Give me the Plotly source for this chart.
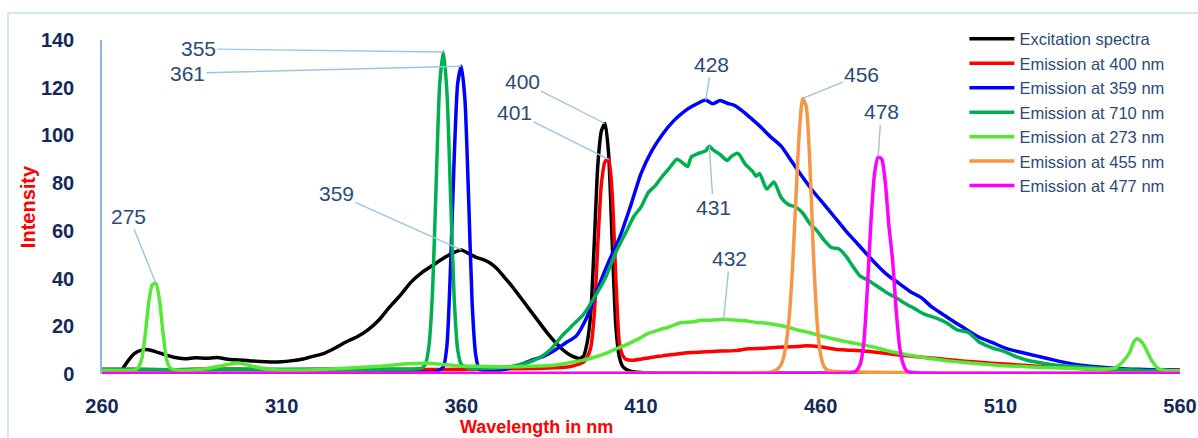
import plotly.graph_objects as go

# ---------------- data ----------------
exc_x = [265, 267, 269, 271, 273, 275, 277, 280, 283, 286, 289, 292, 295, 298, 301, 304, 307, 310, 313, 316,
         319, 322, 325, 328, 331, 334, 337, 340, 343, 346, 349, 352, 355, 358, 360, 362, 364, 366, 368, 370,
         372, 374, 376, 378, 380, 382, 384, 386, 388, 390, 392, 393, 394, 395, 396, 397, 398, 399, 400, 401,
         402, 403, 404, 405, 407, 410, 420, 440, 460, 480, 500, 520, 540, 560]
exc_y = [0.5, 5, 8.5, 10, 10.2, 9.3, 8.3, 7, 6.4, 6.8, 6.6, 6.9, 6.2, 5.9, 5.6, 5.2, 5.0, 5.1, 5.6, 6.3,
         7.5, 8.8, 11, 13.5, 15.6, 18.5, 22.5, 28, 33, 38.5, 42.5, 45.5, 48.5, 51, 52, 50.5, 49, 48, 46.5, 44,
         40.5, 37, 33, 29, 25, 21, 17, 13.5, 10.5, 8.2, 6.8, 6.5, 7.5, 13, 25, 55, 88, 102, 105, 92,
         55, 20, 7, 3, 1.2, 0.6, 0.4, 0.3, 0.3, 0.3, 0.2, 0.2, 0.2, 0.2]

em400_x = [260, 270, 280, 290, 300, 310, 320, 330, 340, 350, 360, 370, 380, 386, 390, 392, 394, 395, 396, 397,
           398, 399, 400, 401, 402, 403, 404, 405, 406, 408, 410, 413, 416, 420, 424, 428, 432, 436, 440, 444,
           448, 452, 456, 460, 464, 468, 472, 476, 480, 485, 490, 495, 500, 505, 510, 515, 520, 525, 530, 535,
           540, 545, 550, 555, 560]
em400_y = [2, 2, 1.8, 2.2, 2, 1.8, 2, 2.1, 2, 1.9, 2, 2.2, 2.3, 2.6, 3, 3.8, 5, 7, 11, 25,
           55, 80, 89, 90, 75, 40, 13, 7.5, 6, 5.8, 6.2, 7, 7.6, 8.4, 9, 9.3, 9.6, 9.8, 10.6, 10.8,
           11.2, 11.4, 11.8, 11.4, 10.4, 10, 9.6, 9, 8.3, 7.5, 6.8, 6.1, 5.4, 4.8, 4.3, 3.8, 3.3, 2.9, 2.5, 2.1,
           1.8, 1.8, 1.7, 1.7, 1.7]

em359_x = [260, 280, 300, 320, 340, 350, 353, 355, 356, 357, 358, 359, 360, 361, 362, 363, 364, 365, 366, 368,
           372, 376, 380, 383, 386, 389, 392, 395, 398, 401, 404, 407, 410, 413, 416, 419, 422, 424, 426, 428,
           430, 432, 434, 436, 438, 440, 443, 446, 449, 452, 455, 458, 461, 464, 467, 470, 473, 476, 479, 482,
           485, 488, 491, 494, 497, 500, 504, 508, 512, 516, 520, 525, 530, 535, 540, 545, 550, 555, 560]
em359_y = [0.3, 0.3, 0.3, 0.4, 0.5, 0.7, 1, 3, 12, 45, 90, 122, 129, 115, 75, 30, 8, 2, 1.5, 1,
           2, 3.7, 6, 7.5, 10, 13, 16, 24, 36, 47, 57, 70, 84, 93.5, 100.5, 106, 110, 112, 113.6, 114.8,
           113.3, 114.6, 113.5, 112.6, 110.5, 108, 104, 99.5, 95.5, 89, 82.5, 76.4, 71, 65.5, 60, 55, 50, 45.2, 41, 37.8,
           34.5, 32, 28, 25, 22, 19.2, 15.5, 13, 10.5, 9, 7.6, 5.8, 4.2, 3.3, 2.6, 2.1, 1.9, 1.7, 1.6]

em710_x = [260, 280, 300, 320, 340, 346, 349, 350, 351, 352, 353, 354, 355, 356, 357, 358, 359, 360, 362, 366,
           370, 374, 378, 382, 385, 388, 391, 394, 397, 400, 403, 406, 408, 410, 412, 414, 416, 418, 420, 422,
           423, 424, 426, 428, 429, 430, 432, 434, 435, 437, 439, 441, 442, 443, 445, 447, 449, 451, 453, 455,
           457, 459, 461, 463, 465, 467, 469, 471, 473, 475, 477, 479, 481, 483, 486, 489, 492, 495, 498, 501,
           504, 506, 508, 511, 514, 517, 520, 525, 530, 535, 540, 545, 550, 555, 560]
em710_y = [2, 1.8, 2, 2, 2, 2, 2.5, 4, 12, 35, 80, 122, 135, 118, 75, 32, 10, 4, 2.5, 2.3,
           2.5, 3.2, 4.5, 7, 10.5, 16, 20.5, 25, 32, 40, 51, 60, 66, 70, 76, 79, 83, 86.5, 90, 88,
           87, 91, 92.5, 93.5, 95.5, 94, 92, 89.5, 91, 92.5, 88, 85, 83, 84, 77.5, 80.5, 74, 71, 70, 67.5,
           63, 60, 56, 53, 52.5, 49.5, 45, 41, 39.5, 37.5, 35.5, 33.5, 32, 30, 27.5, 25, 23.5, 21.5, 18.5, 17.5,
           13.5, 12, 10.8, 9.5, 7.5, 6, 5, 3.8, 3.2, 2.7, 2.2, 1.8, 1.5, 1.3, 1.2]

em273_x = [260, 265, 269, 270, 271, 272, 273, 274, 275, 276, 277, 278, 279, 281, 285, 290, 294, 298, 302, 306,
           310, 315, 320, 325, 330, 335, 340, 345, 350, 355, 360, 365, 370, 375, 380, 385, 388, 391, 394, 397,
           400, 403, 406, 409, 412, 415, 418, 421, 424, 427, 430, 433, 436, 439, 442, 445, 448, 451, 454, 457,
           460, 464, 468, 472, 476, 480, 485, 490, 495, 500, 505, 510, 515, 520, 525, 530, 535, 539, 542, 544,
           546, 547, 548, 549, 550, 552, 554, 556, 560]
em273_y = [1.5, 1.5, 1.6, 2.5, 6, 16, 30, 37.5, 38, 31, 17, 6, 2.5, 1.6, 1.6, 2.5, 3.7, 4.6, 3.2, 2,
           1.6, 1.6, 1.8, 2.2, 2.6, 3, 3.6, 4.3, 4.5, 4, 3.3, 3.2, 3, 3, 3.3, 3.6, 4.2, 5, 5.8, 7,
           8.5, 10.5, 12.3, 14.5, 17, 18.5, 19.8, 21.5, 21.8, 22.5, 22.6, 22.9, 22.6, 22.3, 21.6, 21.3, 20.5, 19.5, 18.3, 17.3,
           16, 14.6, 13.3, 12.2, 10.8, 9.2, 7.8, 6.6, 5.6, 4.8, 4.2, 3.6, 3.2, 2.8, 2.6, 2.4, 2.1, 2, 2.6, 5,
           9, 13, 14.8, 14, 12, 6, 2.2, 1.5, 1.4]

em455_x = [260, 300, 350, 400, 440, 446, 448, 449, 450, 451, 452, 453, 454, 455, 456, 457, 458, 459, 460, 461,
           462, 464, 470, 480, 500, 530, 560]
em455_y = [0.3, 0.3, 0.3, 0.4, 0.5, 0.8, 2, 4, 9, 20, 40, 70, 100, 115.5, 112, 88, 50, 22, 8, 3,
           1.5, 1, 0.8, 0.6, 0.4, 0.3, 0.3]

em477_x = [260, 300, 350, 400, 450, 466, 469, 470, 471, 472, 473, 474, 475, 476, 477, 478, 479, 480, 481, 482,
           483, 484, 487, 500, 530, 560]
em477_y = [0.2, 0.2, 0.2, 0.2, 0.2, 0.3, 0.7, 1.5, 4, 13, 36, 64, 84, 91, 90, 80, 62, 48, 27, 11,
           4, 1.2, 0.4, 0.2, 0.2, 0.2]

series_names = ["Excitation spectra", "Emission at 400 nm", "Emission at 359 nm", "Emission at 710 nm",
                "Emission at 273 nm", "Emission at 455 nm", "Emission at 477 nm"]
series_colors = ["#000000", "#ff0000", "#0000ff", "#00b050", "#55e836", "#f79646", "#ff00ff"]
series_data = [(exc_x, exc_y), (em400_x, em400_y), (em359_x, em359_y), (em710_x, em710_y),
               (em273_x, em273_y), (em455_x, em455_y), (em477_x, em477_y)]

x_ticks = [260, 310, 360, 410, 460, 510, 560]
y_ticks = [0, 20, 40, 60, 80, 100, 120, 140]

# peak labels: (text, series index, search range, ax, ay)
peak_labels = [
    ("355", 3, (340, 370), -245, -3),
    ("361", 2, (350, 370), -274, 7),
    ("359", 0, (340, 380), -125, -56),
    ("275", 4, (265, 285), -27, -67),
    ("400", 0, (390, 410), -83, -42),
    ("401", 1, (390, 410), -94, -47),
    ("428", 2, (415, 445), 6, -36),
    ("431", 3, (420, 445), 4, 61),
    ("432", 4, (415, 450), 6, -61),
    ("456", 5, (440, 470), 59, -24),
    ("478", 6, (465, 490), 3, -45),
]

FONT = "Liberation Sans, Arial, sans-serif"
LABEL_COLOR = "#2b4a7a"
TICK_COLOR = "#14295a"
LEADER = "#9dc3e6"

fig = go.Figure()
for name, color, (xs, ys) in zip(series_names, series_colors, series_data):
    fig.add_trace(go.Scatter(x=xs, y=ys, mode="lines", name=name,
                             line=dict(color=color, width=3.5, shape="spline", smoothing=0.6)))

annotations = []
for text, si, (lo, hi), ax, ay in peak_labels:
    xs, ys = series_data[si]
    best = max((p for p in zip(xs, ys) if lo <= p[0] <= hi), key=lambda p: p[1])
    annotations.append(dict(x=best[0], y=best[1], xref="x", yref="y", text=text,
                            showarrow=True, arrowhead=0, arrowwidth=1.4, arrowcolor=LEADER,
                            ax=ax, ay=ay, standoff=0,
                            font=dict(family=FONT, size=21, color=LABEL_COLOR)))

annotations.append(dict(x=0.4035, y=-0.160, xref="paper", yref="paper", text="<b>Wavelength in nm</b>",
                        showarrow=False, xanchor="center", yanchor="middle",
                        font=dict(family=FONT, size=18, color="#ff0000")))

fig.update_layout(
    width=1198, height=438,
    margin=dict(l=102, r=18, t=40, b=64),
    paper_bgcolor="white", plot_bgcolor="white",
    font=dict(family=FONT, color=TICK_COLOR),
    showlegend=True,
    legend=dict(x=0.80, y=1.055, xanchor="left", yanchor="top", bgcolor="rgba(0,0,0,0)",
                font=dict(family=FONT, size=16.5, color=LABEL_COLOR), tracegroupgap=0,
                itemwidth=45),
    xaxis=dict(range=[260, 560], tickvals=x_ticks, ticktext=[str(v) for v in x_ticks],
               showgrid=False, zeroline=False, showline=False, automargin=False,
               ticks="outside", ticklen=14, tickcolor="rgba(0,0,0,0)",
               tickfont=dict(family=FONT, size=20, color=TICK_COLOR, weight="bold")),
    yaxis=dict(range=[0, 140], tickvals=y_ticks, showgrid=False, zeroline=False,
               showline=True, linecolor="#8fb4e3", linewidth=1.5, automargin=False,
               ticks="outside", ticklen=22, tickcolor="rgba(0,0,0,0)",
               tickfont=dict(family=FONT, size=20, color=TICK_COLOR, weight="bold"),
               title=dict(text="<b>Intensity</b>", standoff=0,
                          font=dict(family=FONT, size=20, color="#ff0000"))),
    annotations=annotations,
    shapes=[dict(type="rect", xref="paper", yref="paper", x0=-0.0872, x1=1.03, y0=-0.25, y1=1.081,
                 line=dict(color="#c9dcf0", width=1.5), fillcolor="rgba(0,0,0,0)", layer="below")],
)

fig.write_html("out.html")
